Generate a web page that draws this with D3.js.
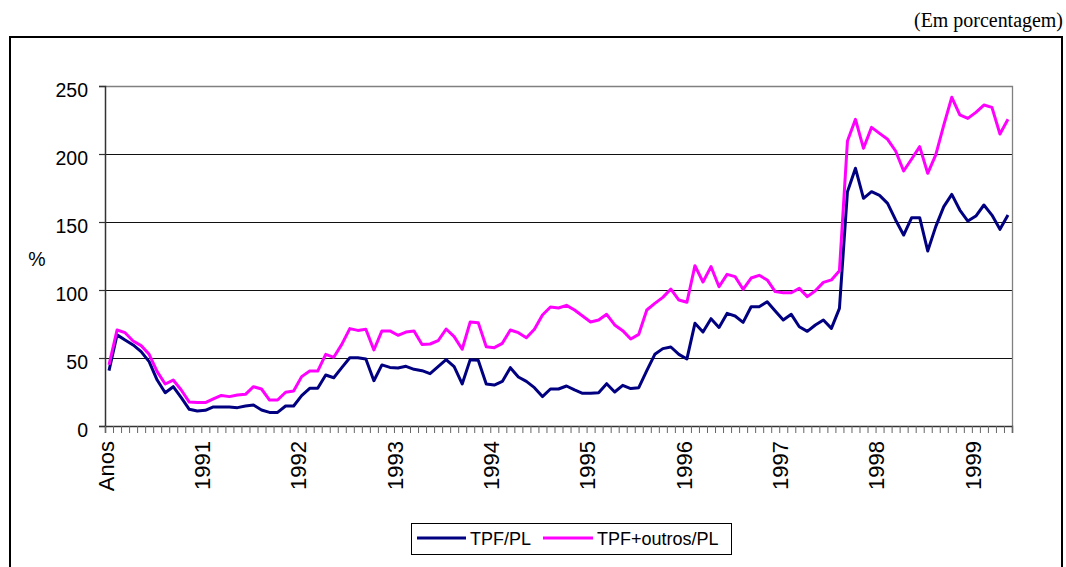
<!DOCTYPE html>
<html>
<head>
<meta charset="utf-8">
<script src="https://cdn.jsdelivr.net/npm/d3@7"></script>
<style>
  html, body { margin: 0; padding: 0; background: #fff; }
  svg { display: block; }
  text { font-family: "Liberation Sans", Arial, sans-serif; fill: #000; }
</style>
</head>
<body>
<svg id="chart" width="1066" height="567"></svg>
<script>
// ---- Data (monthly, Jan 1990 .. May 1999) ----
const yearLabels = ["Anos", "1991", "1992", "1993", "1994", "1995", "1996", "1997", "1998", "1999"];
const seriesNames = ["TPF/PL", "TPF+outros/PL"];
const seriesColors = ["#000080", "#FF00FF"];
const yTicks = [0, 50, 100, 150, 200, 250];

const tpfPL = [
  40.7, 67.0, 63.2, 59.6, 54.7, 47.3, 33.8, 24.5, 28.9, 20.8,
  12.3, 11.0, 11.5, 14.0, 14.0, 14.0, 13.5, 14.7, 15.4, 11.8,
  10.0, 10.0, 14.7, 14.7, 22.3, 27.7, 27.7, 37.5, 35.5, 42.9,
  50.2, 50.2,
  49.2, 33.3, 44.9, 43.1, 42.6, 43.9, 41.7, 40.7, 38.5, 43.6,
  48.8, 43.6, 30.9, 48.8, 48.3, 30.9, 30.1, 32.8, 42.9, 36.0,
  32.8, 28.2, 21.6, 27.2, 27.2, 29.4, 26.5, 24.0, 24.0, 24.5,
  31.1,
  25.0, 29.9, 27.5, 28.2, 40.7, 52.7, 56.9, 58.1, 52.7, 49.3,
  75.5, 69.1, 78.9, 72.5, 82.8, 80.9, 76.2, 87.7, 87.7, 91.4,
  84.6, 77.9, 82.1, 73.0, 69.6, 74.3,
  77.9, 71.8, 86.5, 172.3, 189.5, 167.4, 172.3, 169.6, 163.7, 151.5,
  140.4, 153.2, 153.2, 128.7, 146.6, 161.3, 170.3, 158.8, 150.7, 154.4,
  162.5, 155.1, 144.6, 155.1
];

const tpfOutrosPL = [
  44.9, 70.6, 68.6, 62.5, 59.1, 52.7, 40.0, 30.9, 33.8, 26.5,
  17.6, 17.2, 17.2, 19.9, 22.5, 21.6, 22.8, 23.3, 28.9, 27.2,
  19.1, 19.1, 24.8, 25.7, 36.3, 40.4, 40.4, 52.7, 50.5, 60.0,
  71.6, 70.3,
  71.1, 55.9, 69.9, 69.9, 66.7, 69.1, 69.9, 60.0, 60.3, 62.7,
  71.3, 65.7, 56.4, 76.5, 76.0, 58.3, 57.6, 60.8, 70.6, 68.6,
  64.9, 71.1, 81.6, 87.5, 86.8, 88.7, 85.3, 80.9, 76.5, 77.9,
  82.1,
  74.3, 70.1, 64.0, 67.4, 85.3, 90.2, 94.6, 100.7, 92.6, 91.0,
  117.9, 105.9, 117.2, 102.4, 111.5, 109.8, 100.5, 108.8, 110.8, 107.4,
  98.8, 98.0, 98.0, 101.2, 95.1, 99.5,
  105.6, 107.4, 114.2, 209.6, 225.5, 204.2, 219.6, 215.2, 210.8, 202.2,
  187.5, 196.3, 205.4, 185.8, 199.3, 221.3, 241.7, 228.7, 226.2, 230.6,
  236.0, 234.3, 214.7, 225.5
];

// month categories
const categories = tpfPL.map((_, i) => {
  const yr = 1990 + Math.floor(i / 12), mo = (i % 12) + 1;
  return yr + "-" + String(mo).padStart(2, "0");
});
const labelFor = c => c.endsWith("-01") ? yearLabels[+c.slice(0, 4) - 1990] : "";

// ---- Layout ----
const svg = d3.select("#chart");
const L = 105, R = 1012, T = 86, B = 426;

svg.append("rect").attr("width", 1066).attr("height", 567).attr("fill", "#fff");

// outer frame
svg.append("rect").attr("x", 10).attr("y", 37).attr("width", 1052).attr("height", 600)
  .attr("fill", "none").attr("stroke", "#000").attr("stroke-width", 2);

// note
svg.append("text").attr("x", 1063).attr("y", 27).attr("text-anchor", "end")
  .style("font-family", "'Liberation Serif', 'Times New Roman', serif")
  .style("font-size", "20px")
  .attr("textLength", 149).attr("lengthAdjust", "spacingAndGlyphs")
  .text("(Em porcentagem)");

const x = d3.scaleBand().domain(categories).range([L, R]).padding(0);
const xc = c => x(c) + x.bandwidth() / 2;
const xIdx = d3.scaleLinear().domain([0, categories.length]).range([L, R]);
const y = d3.scaleLinear().domain([0, 250]).range([B, T]);

// gridlines
svg.append("g").selectAll("line").data(yTicks.filter(v => v > 0 && v < 250)).join("line")
  .attr("x1", L).attr("x2", R)
  .attr("y1", d => Math.round(y(d)) + 0.5).attr("y2", d => Math.round(y(d)) + 0.5)
  .attr("stroke", "#111").attr("stroke-width", 1);

// plot border top/right
svg.append("path")
  .attr("d", `M${L},${T + 0.5}H${R + 0.5}V${B}`)
  .attr("fill", "none").attr("stroke", "#808080").attr("stroke-width", 1.3);

// Y axis
const yAxis = svg.append("g").attr("transform", `translate(${L},0)`)
  .call(d3.axisLeft(y).tickValues(yTicks).tickSize(6).tickPadding(11));
yAxis.select(".domain").attr("stroke", "#333").attr("stroke-width", 1.5);
yAxis.selectAll(".tick line").attr("stroke", "#333").attr("stroke-width", 1.2);
yAxis.selectAll("text").style("font-size", "19.5px").attr("dy", "0.55em")
  .style("font-family", "'Liberation Sans', Arial, sans-serif");

// X axis ticks (category boundaries)
const xTicks = svg.append("g").attr("transform", `translate(0,${B})`)
  .call(d3.axisBottom(xIdx).tickValues(d3.range(categories.length + 1)).tickSize(7).tickFormat(""));
xTicks.select(".domain").attr("stroke", "#333").attr("stroke-width", 1.5);
xTicks.selectAll(".tick line").attr("stroke", "#666").attr("stroke-width", 1);

// X labels
const xLab = svg.append("g").attr("transform", `translate(0,${B})`)
  .call(d3.axisBottom(x).tickValues(categories.filter(c => labelFor(c) !== "")).tickSize(0).tickFormat(labelFor));
xLab.select(".domain").remove();
xLab.selectAll("text")
  .attr("transform", "rotate(-90)")
  .attr("text-anchor", "end")
  .attr("x", -15).attr("y", -3).attr("dy", "0.35em")
  .style("font-size", "22px")
  .style("font-family", "'Liberation Sans', Arial, sans-serif");

// % label
svg.append("text").attr("x", 37).attr("y", 266).attr("text-anchor", "middle")
  .style("font-size", "19.5px").text("%");

// lines
const series = [tpfPL, tpfOutrosPL];
const line = d3.line().x((d, i) => xc(categories[i])).y(d => y(d));
svg.append("g").selectAll("path").data(series).join("path")
  .attr("d", d => line(d))
  .attr("fill", "none")
  .attr("stroke", (d, i) => seriesColors[i])
  .attr("stroke-width", 3)
  .attr("stroke-linejoin", "round");

// Legend
const lg = svg.append("g");
lg.append("rect").attr("x", 411.5).attr("y", 523.5).attr("width", 320).attr("height", 31)
  .attr("fill", "#fff").attr("stroke", "#000").attr("stroke-width", 1);
const legendItems = [{x1: 417, x2: 466, tx: 470}, {x1: 543, x2: 593, tx: 597}];
legendItems.forEach((it, i) => {
  lg.append("line").attr("x1", it.x1).attr("x2", it.x2).attr("y1", 538).attr("y2", 538)
    .attr("stroke", seriesColors[i]).attr("stroke-width", 3);
  lg.append("text").attr("x", it.tx).attr("y", 545).style("font-size", "18px").text(seriesNames[i]);
});
</script>
</body>
</html>
